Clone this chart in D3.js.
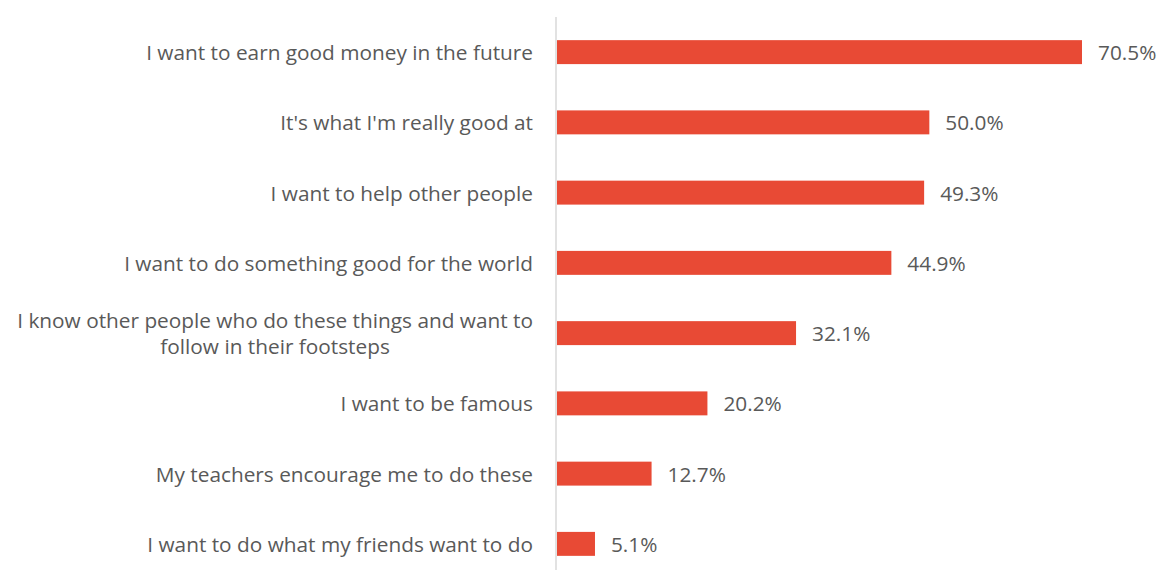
<!DOCTYPE html>
<html>
<head>
<meta charset="utf-8">
<script src="https://cdn.jsdelivr.net/npm/d3@7"></script>
<style>
  html, body { margin: 0; padding: 0; background: #fff; }
  svg { display: block; }
</style>
</head>
<body>
<svg id="chart" width="1162" height="570"></svg>
<script>
// Reasons for choosing a career, share of respondents (%)
const categories = [
  ["I want to earn good money in the future"],
  ["It's what I'm really good at"],
  ["I want to help other people"],
  ["I want to do something good for the world"],
  ["I know other people who do these things and want to", "follow in their footsteps"],
  ["I want to be famous"],
  ["My teachers encourage me to do these"],
  ["I want to do what my friends want to do"]
];
const values = [70.5, 50.0, 49.3, 44.9, 32.1, 20.2, 12.7, 5.1];

const svg = d3.select("#chart");
const font = "'Open Sans', sans-serif";
const fontSize = 20.8;
const textColor = "#595959";
const barColor = "#E84A35";

const x0 = 557;
const x = d3.scaleLinear().domain([0, 70.5]).range([x0, 1082]);
const keys = categories.map((c, i) => i);
const y = d3.scaleBand().domain(keys).range([17, 579]).paddingInner(0.659).paddingOuter(0.3295);

// bars
svg.append("g").selectAll("rect")
  .data(values)
  .join("rect")
  .attr("x", x(0))
  .attr("y", (d, i) => y(i))
  .attr("width", d => x(d) - x(0))
  .attr("height", y.bandwidth())
  .attr("fill", barColor);

// category axis line
svg.append("line")
  .attr("x1", 556).attr("x2", 556)
  .attr("y1", 17).attr("y2", 570)
  .attr("stroke", "#d9d9d9").attr("stroke-width", 1.5);

// category labels
const lineH = 26;
const lab = svg.append("g").selectAll("text")
  .data(categories)
  .join("text")
  .attr("text-anchor", "end")
  .attr("font-family", font)
  .attr("font-size", fontSize)
  .attr("fill", textColor)
  .attr("dominant-baseline", "central")
  .attr("y", (d, i) => y(i) + y.bandwidth() / 2);
lab.each(function(lines) {
  const t = d3.select(this);
  const yc = +t.attr("y");
  lines.forEach((s, j) => {
    t.append("tspan")
      .attr("x", 533)
      .attr("y", yc + (j - (lines.length - 1) / 2) * lineH)
      .attr("text-anchor", "end")
      .text(s);
  });
});
// center two-line label block under its widest line
lab.filter(d => d.length > 1).each(function() {
  const t = d3.select(this);
  const spans = t.selectAll("tspan").nodes();
  const w = d3.max(spans, n => n.getComputedTextLength());
  spans.forEach(n => d3.select(n).attr("x", 533 - w / 2).attr("text-anchor", "middle"));
});

// value labels
svg.append("g").selectAll("text")
  .data(values)
  .join("text")
  .attr("x", d => x(d) + 16)
  .attr("y", (d, i) => y(i) + y.bandwidth() / 2)
  .attr("dominant-baseline", "central")
  .attr("font-family", font)
  .attr("font-size", fontSize)
  .attr("fill", textColor)
  .text(d => d.toFixed(1) + "%");
</script>
</body>
</html>
